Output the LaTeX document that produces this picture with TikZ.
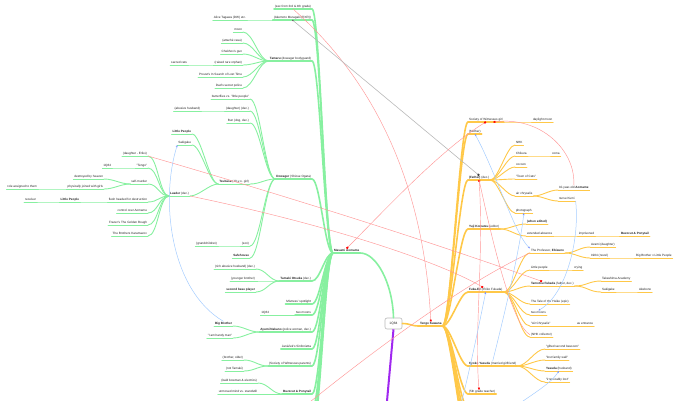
\documentclass[tikz,border=0pt]{standalone}
\usepackage{fontspec}
\setmainfont{Liberation Sans}
\usetikzlibrary{arrows.meta}
\definecolor{grn}{RGB}{135,240,160}
\definecolor{org}{RGB}{255,200,72}
\definecolor{purp}{RGB}{160,40,240}
\definecolor{rl}{RGB}{255,150,150}
\definecolor{bl}{RGB}{165,205,255}
\definecolor{txt}{RGB}{35,35,35}
\tikzset{
  lbl/.style={inner xsep=0.8bp, inner ysep=0.6bp, text height=2.3bp, text depth=0.7bp,
    font=\fontsize{3.1}{3.6}\selectfont, text=txt},
  gthick/.style={draw=grn, line width=1.6bp, line cap=round},
  gthin/.style={draw=grn, line width=0.9bp, line cap=round},
  othick/.style={draw=org, line width=1.6bp, line cap=round},
  othin/.style={draw=org, line width=0.9bp, line cap=round},
  g1/.style={lbl, anchor=south east, append after command={(\tikzlastnode.south west) edge[gthick] (\tikzlastnode.south east)}},
  g2/.style={lbl, anchor=south east, append after command={(\tikzlastnode.south west) edge[gthin] (\tikzlastnode.south east)}},
  g0/.style={lbl, anchor=south west, append after command={(\tikzlastnode.south west) edge[gthick] (\tikzlastnode.south east)}},
  o1/.style={lbl, anchor=south west, append after command={(\tikzlastnode.south west) edge[othick] (\tikzlastnode.south east)}},
  o2/.style={lbl, anchor=south west, append after command={(\tikzlastnode.south west) edge[othin] (\tikzlastnode.south east)}},
  rootbox/.style={draw=gray!55, fill=white, rounded corners=2bp, line width=0.6bp, minimum width=17bp,
    minimum height=11bp, inner sep=0.5bp, font=\fontsize{3.3}{3.8}\selectfont, text=txt},
  purpline/.style={draw=purp, line width=2bp},
  relr/.style={draw=rl, line width=0.45bp},
  relb/.style={draw=bl, line width=0.5bp},
  relg/.style={draw=gray!55, line width=0.6bp},
  sqe/.style={-{Square[length=1.8bp,width=1.8bp,color=red]}},
  sqb/.style={{Square[length=1.8bp,width=1.8bp,color=red]}-{Square[length=1.8bp,width=1.8bp,color=red]}},
  sqk/.style={{Square[length=1.2bp,width=1.2bp,color=black!60]}-{Square[length=1.8bp,width=1.8bp,color=black!75]}},
  bae/.style={-{Stealth[length=2.2bp,width=1.8bp,color=bl!70!blue]}},
  bab/.style={{Stealth[length=2.2bp,width=1.8bp,color=bl!70!blue]}-{Stealth[length=2.2bp,width=1.8bp,color=bl!70!blue]}}
}
\newcommand\lnk[4][8]{\draw[#2] (#3.south east) .. controls +(#1,0) and +(-#1,0) .. (#4.south west);}
\begin{document}
\begin{tikzpicture}[x=1bp,y=-1bp]
\useasboundingbox (0,0) rectangle (681,400);
\clip (0,0) rectangle (681,400);
% ---------------- left: Aomame ----------------
\node[g0] (aom) at (333,253) {\textbf{Masami Aomame}};
\node[g1] (sex) at (312,9) {(sex from 3rd \& 4th grade)};
\node[g1] (ake) at (312,20) {(Akemoto Muragaki (RXR))};
\node[g2] (ali) at (247,20) {Alice Tagawa (DW) etc.};
\node[g1] (tam) at (312,61) {\textbf{Tamaru} (dowager bodyguard)};
\node[g2] (moon) at (243,32) {moon};
\node[g2] (att) at (243,43) {(attaché case)};
\node[g2] (chek) at (243,54) {Chekhov's gun};
\node[g2] (orph) at (243,65) {(raised rare orphan)};
\node[g2] (cats) at (188,65) {sacred cats};
\node[g2] (prou) at (243,77) {Proust's In Search of Lost Time};
\node[g2] (secp) at (243,88) {Dad's secret police};
\node[g1] (dow) at (312,179) {\textbf{Dowager} (Shizue Ogata)};
\node[g2] (but) at (250,99) {butterflies vs. "little people"};
\node[g2] (dau) at (250,111) {(daughter) (dec.)};
\node[g2] (abu) at (201,111) {(abusive husband)};
\node[g2] (bun) at (250,123) {Bun (dog, dec.)};
\node[g2] (tsu) at (250,184) {\textbf{Tsubasa} (10-y.o. girl)};
\node[g2] (lpa) at (192,134) {\textbf{Little People}};
\node[g2] (saka) at (192,145) {Sakigake};
\node[g2] (lead) at (190,196) {\textbf{Leader} (dec.)};
\node[g2] (eri) at (148,156) {(daughter - Eriko)};
\node[g2] (teng) at (148,168) {"Tengo"};
\node[g2] (qa) at (112,168) {1Q84};
\node[g2] (self) at (148,184) {self-murder};
\node[g2] (des) at (104,179) {destroyed by heaven};
\node[g2] (phy) at (104,189) {physically joined with girls};
\node[g2] (role) at (38,189) {role assigned to them};
\node[g2] (fle) at (148,202) {flesh headed for destruction};
\node[g2] (lpb) at (80,202) {\textbf{Little People}};
\node[g2] (rec) at (37,202) {receiver};
\node[g2] (ctl) at (148,213) {control over Aomame};
\node[g2] (fra) at (148,225) {Frazer's The Golden Bough};
\node[g2] (kar) at (148,236) {The Brothers Karamazov};
\node[g2] (son) at (250,246) {(son)};
\node[g2] (gra) at (218,246) {(grandchildren)};
\node[g2] (safe) at (250,258) {\textbf{Safehouse}};
\node[g1] (otsu) at (312,281) {\textbf{Tamaki Otsuka} (dec.)};
\node[g2] (rich) at (256,269) {(rich abusive husband) (dec.)};
\node[g2] (yb) at (256,281) {(younger brother)};
\node[g2] (sbp) at (256,292) {\textbf{second base player}};
\node[g1] (mis) at (312,304) {Mistress' spotlight};
\node[g1] (tma) at (312,315) {two moons};
\node[g2] (qb) at (270,315) {1Q84};
\node[g1] (ayu) at (312,332) {\textbf{Ayumi Nakano} (police woman, dec.)};
\node[g2] (bba) at (233,326) {\textbf{Big Brother}};
\node[g2] (hm) at (233,338) {"I am handy man"};
\node[g1] (jan) at (312,349) {Janáček's Sinfonietta};
\node[g1] (swp) at (312,366) {(Society of Witnesses parents)};
\node[g2] (bro) at (244,360) {(brother, older)};
\node[g2] (nt) at (244,371) {(not Tamaki)};
\node[g1] (buz) at (312,394) {\textbf{Buzzcut \& Ponytail}};
\node[g2] (bald) at (258,383) {(bald bowman \& electrics)};
\node[g2] (unm) at (258,394) {unmoved mind vs. standstill};
\coordinate (ga) at (312,410);
\coordinate (gb) at (312,422);
\coordinate (gc) at (312,434);
% ---------------- root ----------------
\node[rootbox] (root) at (393.5,323.5) {1Q84};
\coordinate (pp) at (386,412);
% ---------------- right: Tengo ----------------
\node[o1] (tengo) at (419,326) {\textbf{Tengo Kawana}};
\node[o1] (swg) at (468,122) {Society of Witnesses girl};
\node[o2] (dlm) at (532,122) {daylight moon};
\node[o1] (mot) at (468,134) {(Mother)};
\node[o1] (fat) at (468,180) {\textbf{(Father)} (dec.)};
\node[o2] (nhk) at (515,145) {NHK};
\node[o2] (chi) at (515,156) {Chikura};
\node[o2] (coma) at (551,156) {coma};
\node[o2] (coc) at (515,167) {cocoon};
\node[o2] (toc) at (515,179) {"Town of Cats"};
\node[o2] (airc) at (515,196) {air chrysalis};
\node[o2] (tya) at (558,190) {10-year-old \textbf{Aomame}};
\node[o2] (nk) at (558,201) {nurse Kumi};
\node[o2] (ph) at (515,213) {photograph};
\node[o1] (kom) at (468,229) {\textbf{Yuji Komatsu} (editor)};
\node[o2] (whe) at (526,224) {\textbf{(when edited)}};
\node[o2] (ext) at (526,236) {extended absence};
\node[o2] (imp) at (578,236) {imprisoned};
\node[o2] (buzb) at (620,236) {\textbf{Buzzcut \& Ponytail}};
\node[o1] (fuk) at (468,292) {\textbf{Fuka-Eri} (Eriko Fukada)};
\node[o2] (prof) at (530,253) {The Professor, \textbf{Ebisuno}};
\node[o2] (aza) at (590,247) {Azami (daughter)};
\node[o2] (nov) at (590,258) {1984 (novel)};
\node[o2] (bblp) at (635,258) {Big Brother v Little People};
\node[o2] (lpc) at (530,270) {Little people};
\node[o2] (cry) at (573,270) {crying};
\node[o2] (tmf) at (530,286) {\textbf{Tamotsu Fukada} (father, dec.)};
\node[o2] (tak) at (601,281) {Takashima Academy};
\node[o2] (sakb) at (601,292) {Sakigake};
\node[o2] (ake2) at (638,292) {Akebono};
\node[o2] (hei) at (530,304) {The Tale of the Heike (epic)};
\node[o2] (tmb) at (530,315) {two moons};
\node[o2] (airq) at (530,326) {"Air Chrysalis"};
\node[o2] (ent) at (576,326) {as entrance};
\node[o2] (nhkc) at (530,337) {(NHK collector)};
\node[o1] (kyo) at (468,366) {\textbf{Kyoko Yasuda} (married girlfriend)};
\node[o2] (gif) at (545,349) {"gifted second bassoon"};
\node[o2] (lfw) at (545,360) {"lost family wall"};
\node[o2] (yas) at (545,371) {\textbf{Yasuda} (husband)};
\node[o2] (irr) at (545,382) {"irrevocably lost"};
\node[o1] (tea) at (468,394) {(5th grade teacher)};
\coordinate (oa) at (468,408);
\coordinate (ob) at (468,418);
\coordinate (oc) at (468,428);
\coordinate (od) at (468,438);
% ---------------- green branches ----------------
\foreach \c in {sex,ake,tam,dow,otsu,mis,tma,ayu,jan,swp,buz}{\lnk{gthick}{\c}{aom}}
\foreach \c in {ga,gb,gc}{\draw[gthick] (\c) .. controls +(8,0) and +(-8,0) .. (aom.south west);}
\lnk[0]{gthin}{ali}{ake}
\foreach \c in {moon,att,chek,orph,prou,secp}{\lnk[10]{gthin}{\c}{tam}}
\lnk[0]{gthin}{cats}{orph}
\foreach \c in {but,dau,bun,tsu,son,safe}{\lnk[10]{gthin}{\c}{dow}}
\lnk[0]{gthin}{abu}{dau}
\lnk[0]{gthin}{gra}{son}
\foreach \c in {lpa,saka,lead}{\lnk[9]{gthin}{\c}{tsu}}
\foreach \c in {eri,teng,self,fle,ctl,fra,kar}{\lnk[10]{gthin}{\c}{lead}}
\lnk[0]{gthin}{qa}{teng}
\lnk[10]{gthin}{des}{self}
\lnk[10]{gthin}{phy}{self}
\lnk[0]{gthin}{role}{phy}
\lnk[0]{gthin}{lpb}{fle}
\lnk[0]{gthin}{rec}{lpb}
\foreach \c in {rich,yb,sbp}{\lnk[10]{gthin}{\c}{otsu}}
\lnk[0]{gthin}{qb}{tma}
\foreach \c in {bba,hm}{\lnk[10]{gthin}{\c}{ayu}}
\foreach \c in {bro,nt}{\lnk[10]{gthin}{\c}{swp}}
\foreach \c in {bald,unm}{\lnk[10]{gthin}{\c}{buz}}
\draw[gthick] (aom.south east) .. controls +(16,0) and +(-1,-35) .. (root.north);
% ---------------- purple / orange ----------------
\draw[purpline] (root.south) -- (pp);
\draw[othick] (root.east) .. controls +(8,0) and +(-8,0) .. (tengo.south west);
\foreach \c in {swg,mot,fat,kom,fuk,kyo,tea}{\lnk{othick}{tengo}{\c}}
\foreach \c in {oa,ob,oc,od}{\draw[othick] (tengo.south east) .. controls +(8,0) and +(-8,0) .. (\c);}
\lnk[0]{othin}{swg}{dlm}
\foreach \c in {nhk,chi,coc,toc,airc,ph}{\lnk[8]{othin}{fat}{\c}}
\lnk[0]{othin}{chi}{coma}
\foreach \c in {tya,nk}{\lnk[9]{othin}{airc}{\c}}
\foreach \c in {whe,ext}{\lnk[10]{othin}{kom}{\c}}
\lnk[0]{othin}{ext}{imp}
\lnk[0]{othin}{imp}{buzb}
\foreach \c in {prof,lpc,tmf,hei,tmb,airq,nhkc}{\lnk[10]{othin}{fuk}{\c}}
\foreach \c in {aza,nov}{\lnk[10]{othin}{prof}{\c}}
\lnk[0]{othin}{nov}{bblp}
\lnk[0]{othin}{lpc}{cry}
\foreach \c in {tak,sakb}{\lnk[12]{othin}{tmf}{\c}}
\lnk[0]{othin}{sakb}{ake2}
\lnk[0]{othin}{airq}{ent}
\foreach \c in {gif,lfw,yas,irr}{\lnk[10]{othin}{kyo}{\c}}
% ---------------- relationships ----------------
\coordinate (r8s) at (300,410);
\coordinate (b5s) at (459,412);
\coordinate (b6s) at (505,414);
\draw[relr,sqe] (sex.south) .. controls (377,83) and (424,187) .. (tengo.north);
\draw[relg,sqk] (ake.south) -- (fat.north);
\draw[relr,sqb] (swg.south) .. controls (440,150) and (380,215) .. (aom.north);
\draw[relr,sqe] (tya.north) .. controls (576,150) and (540,116) .. ([xshift=-10bp]swg.south east);
\draw[relr,sqe] (eri.south east) .. controls (300,200) and (440,245) .. ([xshift=12bp]tmf.north west);
\draw[relr,sqe] (lead.south east) .. controls (330,225) and (440,262) .. ([xshift=15bp]fuk.north west);
\draw[relr,sqb] (fat.south) .. controls (484,260) and (474,330) .. ([xshift=11bp]tea.north west);
\draw[relr] (fat.south) .. controls (492,240) and (512,325) .. (nhkc.west);
\draw[relr] (r8s) .. controls (380,345) and (470,280) .. (prof.south west);
\draw[relb,bae] (bba.north) .. controls (170,290) and (160,200) .. (saka.south west);
\draw[relb,bab] (prof.north west) .. controls (515,235) and (495,170) .. (mot.south);
\draw[relb,bae] (nk.south east) .. controls (580,240) and (566,295) .. (tmb.north);
\draw[relb,bae] (kyo.north) .. controls (503,320) and (520,250) .. (ph.south);
\draw[relb,bae] (b5s) .. controls (470,370) and (480,320) .. (fuk.south);
\draw[relb,bae] (b6s) .. controls (530,395) and (550,385) .. (yas.south);
\end{tikzpicture}
\end{document}
